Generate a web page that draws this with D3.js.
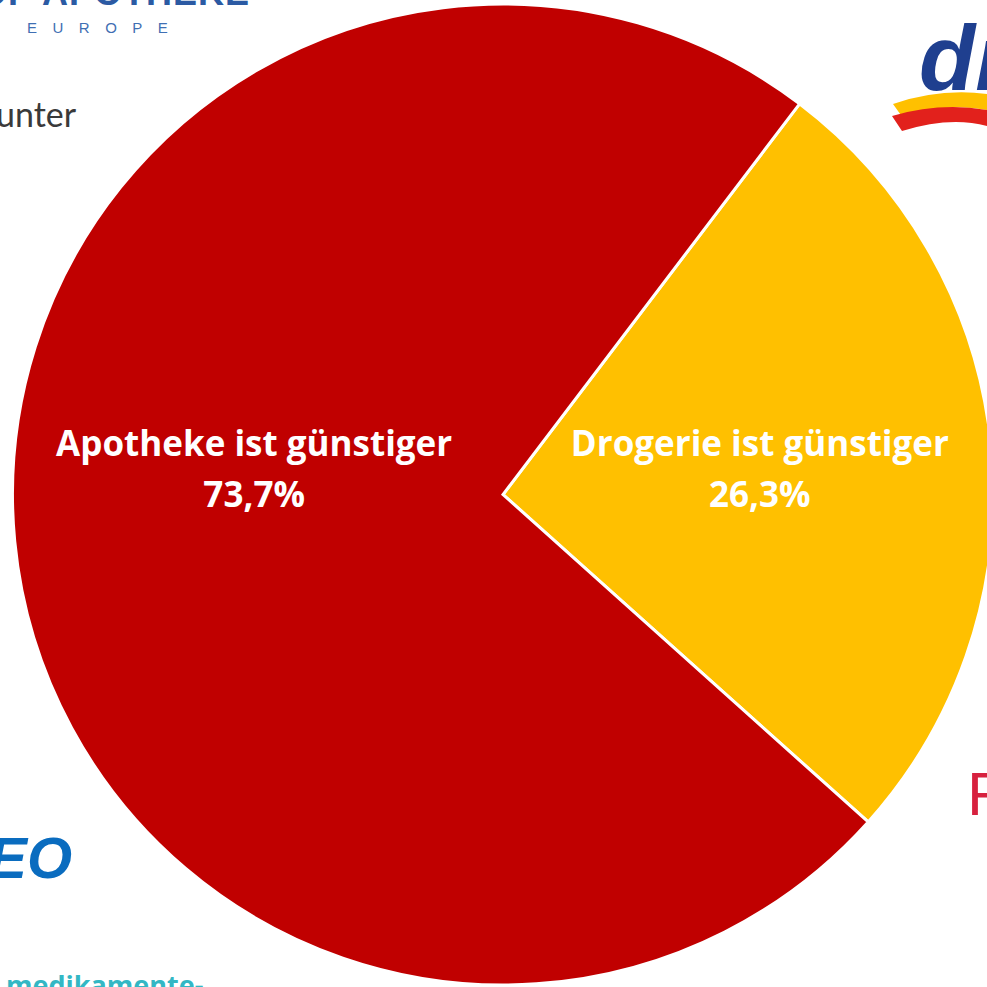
<!DOCTYPE html>
<html>
<head>
<meta charset="utf-8">
<script src="https://cdn.jsdelivr.net/npm/d3@7"></script>
<style>
  body { margin: 0; background: #fff; }
  svg { display: block; }
</style>
</head>
<body>
<div id="chart"></div>
<script>
var categories = ["Drogerie ist günstiger", "Apotheke ist günstiger"],
    values = [26.3, 73.7],
    valueLabels = ["26,3%", "73,7%"],
    colors = ["#FFC000", "#C00000"];

var width = 987, height = 987,
    cx = 503, cy = 494.5,
    radius = 490.5,
    startDeg = 37.2;

var svg = d3.select("#chart")
    .append("svg")
    .attr("width", width)
    .attr("height", height);

// background logo fragments (cut off by the page edge)
var bg = svg.append("g");
bg.append("text")
    .attr("x", 250).attr("y", 5)
    .attr("text-anchor", "end")
    .attr("font-family", "Liberation Sans, Arial")
    .attr("font-weight", "bold")
    .attr("font-size", 36)
    .attr("letter-spacing", 1)
    .attr("fill", "#2b5aa3")
    .text("SHOP APOTHEKE");
bg.append("text")
    .attr("x", 27).attr("y", 33)
    .attr("font-family", "Liberation Sans, Arial")
    .attr("font-size", 15)
    .attr("letter-spacing", 15.5)
    .attr("fill", "#3f6fb3")
    .text("EUROPE");
bg.append("text")
    .attr("x", -4).attr("y", 127)
    .attr("font-family", "Lato, sans-serif")
    .attr("font-size", 34)
    .attr("fill", "#3a3a3a")
    .text("unter");
// dm swoosh
bg.append("path")
    .attr("d", "M893,104 Q940,88 987,94 L987,110 Q945,102 903,118 Z")
    .attr("fill", "#FFC000");
bg.append("path")
    .attr("d", "M892,116 Q940,102 987,110 L987,126 Q950,116 902,131 Z")
    .attr("fill", "#e2211c");
bg.append("text")
    .attr("x", 919).attr("y", 90)
    .attr("font-family", "Liberation Sans, Arial")
    .attr("font-weight", "bold")
    .attr("font-style", "italic")
    .attr("font-size", 92)
    .attr("fill", "#1f3f8f")
    .text("dm");
bg.append("text")
    .attr("x", 967).attr("y", 815)
    .attr("font-family", "Liberation Sans, Arial")
    .attr("font-size", 62)
    .attr("fill", "#d7213f")
    .text("R");
bg.append("text")
    .attr("x", 72).attr("y", 878)
    .attr("text-anchor", "end")
    .attr("font-family", "Liberation Sans, Arial")
    .attr("font-weight", "bold")
    .attr("font-style", "italic")
    .attr("font-size", 58)
    .attr("fill", "#0a6cbf")
    .text("MEO");
bg.append("text")
    .attr("x", 6).attr("y", 995)
    .attr("font-family", "Open Sans, sans-serif")
    .attr("font-weight", "bold")
    .attr("font-size", 27)
    .attr("fill", "#33b7c4")
    .text("medikamente-");

var data = categories.map(function(c, i) {
  return { name: c, value: values[i], label: valueLabels[i], color: colors[i] };
});

var pie = d3.pie()
    .sort(null)
    .value(function(d) { return d.value; })
    .startAngle(startDeg * Math.PI / 180)
    .endAngle((startDeg + 360) * Math.PI / 180);

var arc = d3.arc().innerRadius(0).outerRadius(radius);
var labelArc = d3.arc().innerRadius(254).outerRadius(254);

var g = svg.append("g")
    .attr("transform", "translate(" + cx + "," + cy + ")");

var slices = g.selectAll("g.slice")
    .data(pie(data))
    .enter()
    .append("g")
    .attr("class", "slice");

slices.append("path")
    .attr("d", arc)
    .attr("fill", function(d) { return d.data.color; })
    .attr("stroke", "#fff")
    .attr("stroke-width", 3)
    .attr("stroke-linejoin", "miter");

// labels sit on one line a bit above the centre, x from the slice centroid
var labels = slices.append("text")
    .attr("transform", function(d) {
      var c = labelArc.centroid(d);
      return "translate(" + (c[0] + 4) + "," + (-27) + ")";
    })
    .attr("text-anchor", "middle")
    .attr("font-family", "Open Sans, sans-serif")
    .attr("font-weight", "bold")
    .attr("font-size", 35)
    .attr("fill", "#fff");

labels.append("tspan")
    .attr("x", 0)
    .attr("y", -12)
    .text(function(d) { return d.data.name; });
labels.append("tspan")
    .attr("x", 0)
    .attr("y", 39)
    .text(function(d) { return d.data.label; });
</script>
</body>
</html>
